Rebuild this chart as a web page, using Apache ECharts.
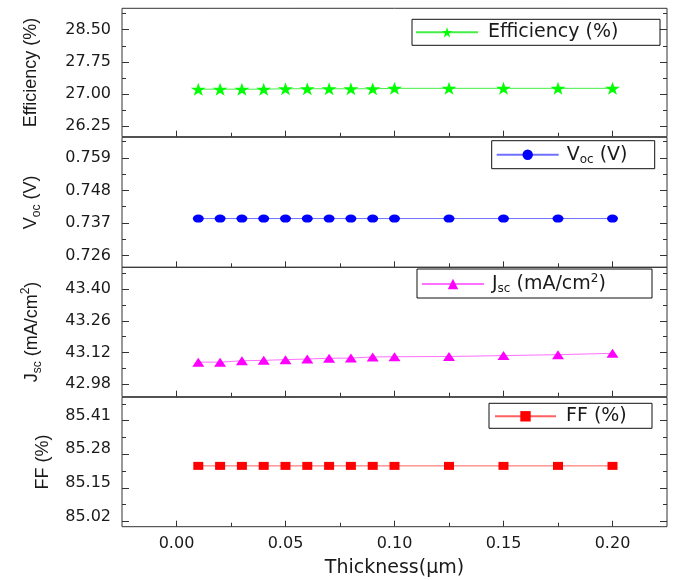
<!DOCTYPE html>
<html>
<head>
<meta charset="utf-8">
<script src="https://cdn.jsdelivr.net/npm/echarts@6/dist/echarts.min.js"></script>
<style>
html, body { margin: 0; padding: 0; background: #fff; }
#chart { width: 673px; height: 580px; }
</style>
</head>
<body>
<div id="chart"></div>
<script>
// thickness of the layer (µm) and the four device parameters
const thickness = [0.01, 0.02, 0.03, 0.04, 0.05, 0.06, 0.07, 0.08, 0.09, 0.10, 0.125, 0.15, 0.175, 0.20];
const efficiency = [27.11, 27.11, 27.11, 27.11, 27.12, 27.12, 27.12, 27.12, 27.12, 27.13, 27.13, 27.13, 27.13, 27.13];
const voc = [0.7385, 0.7385, 0.7385, 0.7385, 0.7385, 0.7385, 0.7385, 0.7385, 0.7385, 0.7385, 0.7385, 0.7385, 0.7385, 0.7385];
const jsc = [43.077, 43.077, 43.083, 43.085, 43.088, 43.091, 43.094, 43.095, 43.100, 43.101, 43.102, 43.106, 43.110, 43.116];
const ff = [85.235, 85.235, 85.235, 85.235, 85.235, 85.235, 85.235, 85.235, 85.235, 85.235, 85.235, 85.235, 85.235, 85.235];

// tick labels
const xTicks = [0, 0.05, 0.10, 0.15, 0.20];
const xMinor = [0.025, 0.075, 0.125, 0.175];
const effTicks = [26.25, 27.00, 27.75, 28.50];
const effMinor = [26.625, 27.375, 28.125, 28.875];
const vocTicks = [0.726, 0.737, 0.748, 0.759];
const vocMinor = [0.7315, 0.7425, 0.7535, 0.7645];
const jscTicks = [42.98, 43.12, 43.26, 43.40];
const jscMinor = [43.05, 43.19, 43.33, 43.47];
const ffTicks = [85.02, 85.15, 85.28, 85.41];
const ffMinor = [85.085, 85.215, 85.345, 85.475];

const STAR = 'path://M50,0 L61,35 L98,35 L68,57 L79,91 L50,70 L21,91 L32,57 L2,35 L39,35 Z';
const AXIS = '#333';
const TXT = '#1a1a1a';

const panels = [
    { name: 'Efficiency (%)', label: 'Efficiency (%)', title: 'Efficiency (%)', data: efficiency,
      min: 26.0, max: 29.0, ticks: effTicks, minor: effMinor, digits: 2,
      color: '#00ff00', line: '#44ee44', symbol: STAR, size: [15, 13], nameGap: 82,
      top: 8.3, height: 128.4,
      legend: { left: 412, top: 19.3, pad: [2, 3, 2, 3], textW: 169, textPad: 5, iw: 62 } },
    { name: 'Voc (V)', label: 'V{sub|oc} (V)', title: '{m|V}{s|oc}{m| (V)}', data: voc,
      min: 0.722, max: 0.766, ticks: vocTicks, minor: vocMinor, digits: 3,
      color: '#0000ff', line: '#7070ff', symbol: 'circle', size: [11, 8], nameGap: 79,
      top: 137.3, height: 130,
      legend: { left: 491.7, top: 140.7, pad: [3, 3, 3, 4], textW: 85, textPad: 3, iw: 62 } },
    { name: 'Jsc (mA/cm2)', label: 'J{sub|sc} (mA/cm{sup|2})', title: '{m|J}{s|sc}{m| (mA/cm}{p|2}{m|)}', data: jsc,
      min: 42.924, max: 43.497, ticks: jscTicks, minor: jscMinor, digits: 2,
      color: '#ff00ff', line: '#ff70ff', symbol: 'triangle', size: [12, 9], nameGap: 78,
      top: 267.3, height: 129.4,
      legend: { left: 417, top: 269, pad: [4, 3, 3, 4], textW: 157, textPad: 3, iw: 62 } },
    { name: 'FF (%)', label: 'FF (%)', title: 'FF (%)', data: ff,
      min: 85.0, max: 85.5, ticks: ffTicks, minor: ffMinor, digits: 2,
      color: '#ff0000', line: '#ff6060', symbol: 'rect', size: [10, 8], nameGap: 70, shiftUp: true,
      top: 397.3, height: 129.4,
      legend: { left: 489, top: 403.3, pad: [2, 3, 1, 5], textW: 83, textPad: 5, iw: 61 } }
];

const richName = {
    m: { fontFamily: 'Liberation Sans', fontSize: 18, color: TXT, lineHeight: 24, verticalAlign: 'middle' },
    s: { fontFamily: 'Liberation Sans', fontSize: 12, color: TXT, lineHeight: 12, verticalAlign: 'bottom' },
    p: { fontFamily: 'Liberation Sans', fontSize: 12, color: TXT, lineHeight: 12, verticalAlign: 'top' }
};
const richLegend = {
    sub: { fontFamily: 'DejaVu Sans', fontSize: 12, color: TXT, lineHeight: 12, verticalAlign: 'bottom' },
    sup: { fontFamily: 'DejaVu Sans', fontSize: 12, color: TXT, lineHeight: 12, verticalAlign: 'top' }
};

const grid = [], xAxis = [], yAxis = [], series = [], legend = [];

panels.forEach((p, i) => {
    const last = i === panels.length - 1;
    grid.push({
        left: 122, width: 545, top: p.top, height: p.height,
        show: true, borderColor: AXIS, borderWidth: 1, backgroundColor: 'transparent',
        outerBoundsMode: 'none'
    });

    const xBase = {
        gridIndex: i, type: 'value', position: 'bottom', min: -0.025, max: 0.225,
        axisLine: { show: false, onZero: false }, splitLine: { show: false }
    };
    xAxis.push(Object.assign({}, xBase, {
        axisTick: { show: true, inside: true, length: 6, customValues: xTicks, lineStyle: { color: AXIS } },
        axisLabel: {
            show: last, customValues: xTicks, margin: 9, formatter: v => v.toFixed(2),
            fontFamily: 'DejaVu Sans', fontSize: 16, color: TXT
        },
        name: last ? 'Thickness(μm)' : '', nameLocation: 'middle', nameGap: 32,
        nameTextStyle: { fontFamily: 'DejaVu Sans', fontSize: 19, color: TXT }
    }));
    xAxis.push(Object.assign({}, xBase, {
        axisTick: { show: true, inside: true, length: 4, customValues: xMinor, lineStyle: { color: AXIS } },
        axisLabel: { show: false }
    }));

    const yBase = {
        gridIndex: i, type: 'value', min: p.min, max: p.max,
        axisLine: { show: false, onZero: false }, splitLine: { show: false }
    };
    const label = {
        customValues: p.ticks, margin: 11, formatter: v => v.toFixed(p.digits),
        fontFamily: 'DejaVu Sans', fontSize: 16, color: TXT
    };
    if (p.shiftUp) {
        label.verticalAlign = 'bottom';
        label.lineHeight = 10;
    }
    yAxis.push(Object.assign({}, yBase, {
        position: 'left',
        axisTick: { show: true, inside: true, length: 7, customValues: p.ticks, lineStyle: { color: AXIS } },
        axisLabel: label,
        name: p.title, nameLocation: 'middle', nameRotate: 90, nameGap: p.nameGap,
        nameTextStyle: { fontFamily: 'Liberation Sans', fontSize: 18, color: TXT, rich: richName }
    }));
    yAxis.push(Object.assign({}, yBase, {
        position: 'left',
        axisTick: { show: true, inside: true, length: 4, customValues: p.minor, lineStyle: { color: AXIS } },
        axisLabel: { show: false }
    }));
    yAxis.push(Object.assign({}, yBase, {
        position: 'right',
        axisTick: { show: true, inside: true, length: 7, customValues: p.ticks, lineStyle: { color: AXIS } },
        axisLabel: { show: false }
    }));
    yAxis.push(Object.assign({}, yBase, {
        position: 'right',
        axisTick: { show: true, inside: true, length: 4, customValues: p.minor, lineStyle: { color: AXIS } },
        axisLabel: { show: false }
    }));

    series.push({
        name: p.name, type: 'line', xAxisIndex: 2 * i, yAxisIndex: 4 * i,
        data: thickness.map((t, k) => [t, p.data[k]]),
        symbol: p.symbol, symbolSize: p.size, showSymbol: true,
        lineStyle: { color: p.line, width: 1 },
        itemStyle: { color: p.color }
    });

    const lg = p.legend;
    legend.push({
        data: [p.name], left: lg.left, top: lg.top, orient: 'horizontal',
        padding: lg.pad, itemWidth: lg.iw, itemHeight: 13,
        borderColor: '#111', borderWidth: 1, backgroundColor: '#fff',
        selectedMode: false,
        formatter: () => p.label,
        textStyle: {
            fontFamily: 'DejaVu Sans', fontSize: 19, color: TXT, lineHeight: 22,
            width: lg.textW, padding: [0, 0, 0, lg.textPad], rich: richLegend
        }
    });
});

const chart = echarts.init(document.getElementById('chart'), null, { renderer: 'canvas' });
chart.setOption({
    animation: false,
    backgroundColor: '#fff',
    grid, xAxis, yAxis, series, legend
});
</script>
</body>
</html>
